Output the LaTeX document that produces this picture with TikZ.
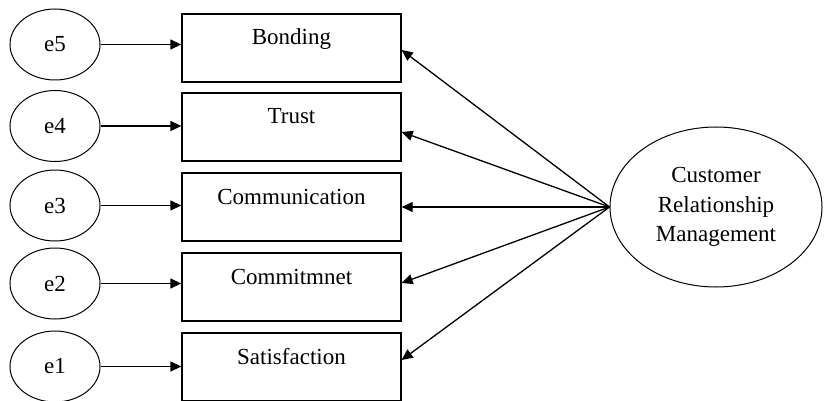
\documentclass[tikz,border=0pt]{standalone}
\usepackage{fontspec}
\newfontfamily\semfont{Liberation Serif}
\usetikzlibrary{arrows.meta, shapes.geometric}

\begin{document}
\begin{tikzpicture}[x=1pt, y=-1pt, line width=1.3pt,
        every node/.style={font=\semfont\fontsize{23}{29.5}\selectfont},
        err/.style={draw, ellipse, line width=1pt, minimum width=90pt, minimum height=71pt, inner sep=0pt},
        indbox/.style={draw, rectangle, minimum width=219pt, inner xsep=0pt, inner ysep=0pt,
                text height=31pt, text depth=37pt},
        latent/.style={draw, ellipse, line width=1pt, minimum width=212pt, minimum height=160pt,
                inner sep=0pt, align=center},
        path/.style={-{Triangle[length=11pt, width=10pt]}}]
                \useasboundingbox (0,0) rectangle (824,401);
                \clip (0,0) rectangle (824,401);

                % Error terms:
                \node[err] (e5) at (55,44.5) {e5};
                \node[err] (e4) at (55,126) {e4};
                \node[err] (e3) at (55,205.5) {e3};
                \node[err] (e2) at (55,283.5) {e2};
                \node[err] (e1) at (55,366.5) {e1};

                % Indicators:
                \node[indbox] (bond) at (291.5,48) {Bonding};
                \node[indbox] (trust) at (291.5,127) {Trust};
                \node[indbox] (comm) at (291.5,207) {Communication};
                \node[indbox] (commit) at (291.5,287) {Commitmnet};
                \node[indbox] (satis) at (291.5,367) {Satisfaction};

                % Latent variable:
                \node[latent] (crm) at (716,207) {Customer\\Relationship\\Management};

                % Errors to indicators:
                \draw[path] (e5) -- (e5 -| bond.west);
                \draw[path] (e4) -- (e4 -| trust.west);
                \draw[path] (e3) -- (e3 -| comm.west);
                \draw[path] (e2) -- (e2 -| commit.west);
                \draw[path] (e1) -- (e1 -| satis.west);

                % Loadings:
                \draw[path] (crm.west) -- ([yshift=-2pt]bond.east);
                \draw[path] (crm.west) -- ([yshift=-5pt]trust.east);
                \draw[path] (crm.west) -- (comm.east);
                \draw[path] (crm.west) -- ([yshift=4pt]commit.east);
                \draw[path] (crm.west) -- ([yshift=7pt]satis.east);
            \end{tikzpicture}
\end{document}
